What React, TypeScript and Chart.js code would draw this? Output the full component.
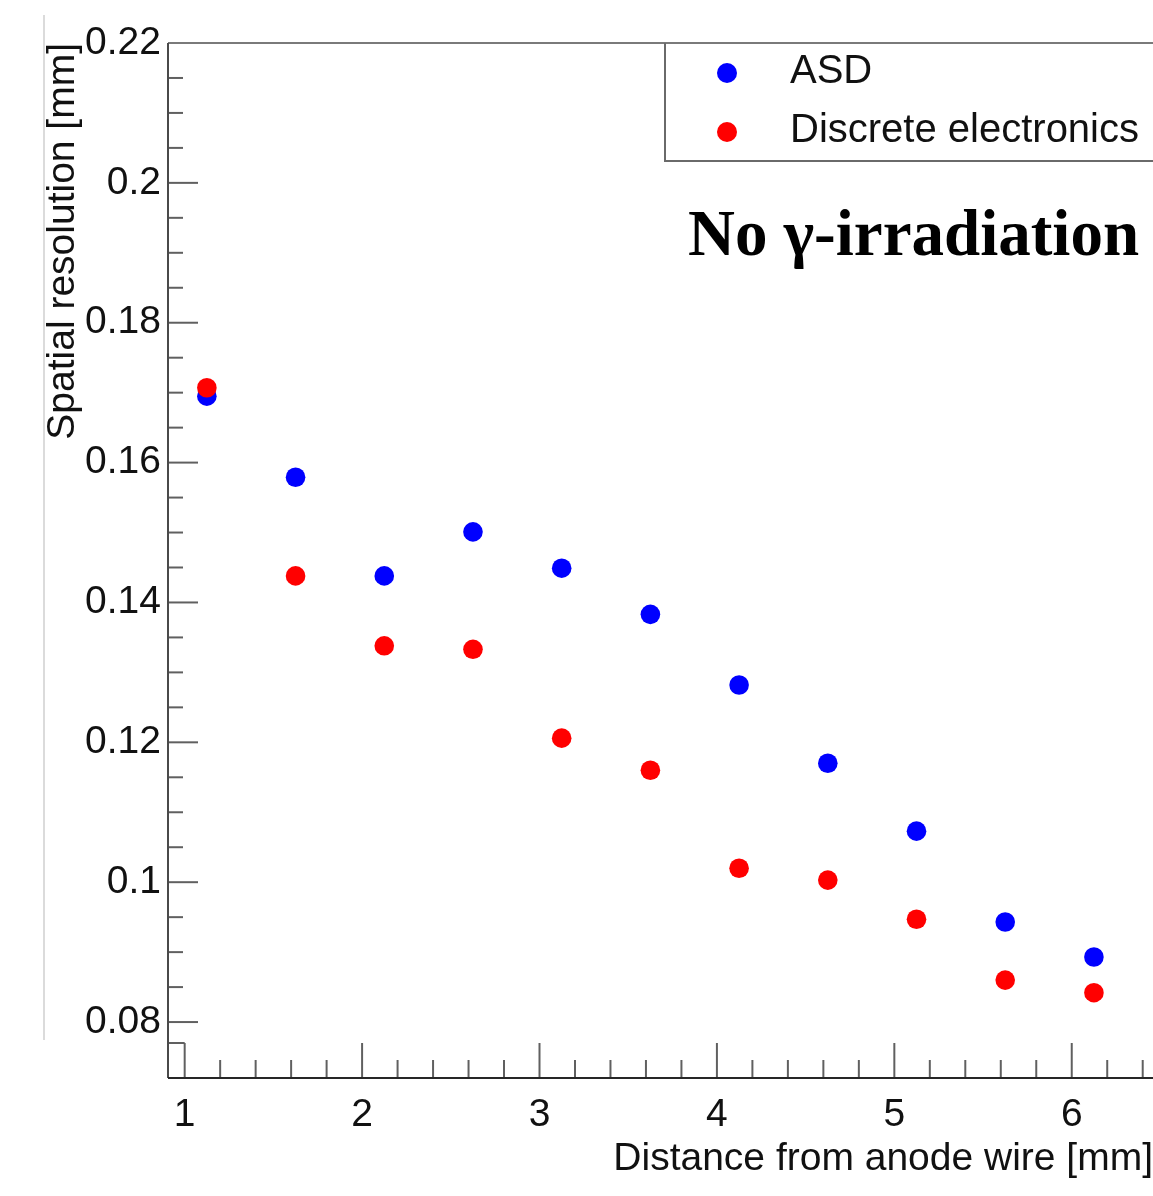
import React, { useEffect, useRef } from "react";
import { Chart, registerables } from "chart.js";

Chart.register(...registerables);

// ---- Data ----
const distances = [1.125, 1.625, 2.125, 2.625, 3.125, 3.625, 4.125, 4.625, 5.125, 5.625, 6.125];
const asdResolution = [0.1695, 0.1579, 0.1438, 0.1501, 0.1449, 0.1383, 0.1282, 0.117, 0.1073, 0.0943, 0.0893];
const discreteResolution = [0.1707, 0.1438, 0.1338, 0.1333, 0.1206, 0.116, 0.102, 0.1003, 0.0947, 0.086, 0.0842];
const seriesLabels = ["ASD", "Discrete electronics"];
const seriesColors = ["#0000ff", "#ff0000"];
const xTickValues = [1, 2, 3, 4, 5, 6];
const yTickValues = [0.08, 0.1, 0.12, 0.14, 0.16, 0.18, 0.2, 0.22];
const xMinorStep = 0.2;
const yMinorStep = 0.005;
const xRange = [0.906, 6.458];
const yRange = [0.072, 0.22];
const xTitle = "Distance from anode wire [mm]";
const yTitle = "Spatial resolution [mm]";
const annotationText = "No γ-irradiation";

const SANS = '"Liberation Sans", Arial, Helvetica, sans-serif';
const SERIF = '"Liberation Serif", "Times New Roman", serif';

const rootFramePlugin = {
  id: "rootFrame",
  beforeDatasetsDraw(chart: any) {
    const { ctx, chartArea } = chart;
    const { left, right, top, bottom } = chartArea;
    const xs = chart.scales.x;
    const ys = chart.scales.y;
    ctx.save();
    // cropped-image edge line on the far left
    ctx.strokeStyle = "#cfcfcf";
    ctx.lineWidth = 1.5;
    ctx.beginPath();
    ctx.moveTo(44, 15);
    ctx.lineTo(44, 1040);
    ctx.stroke();

    // top frame line
    ctx.strokeStyle = "#7a7a7a";
    ctx.lineWidth = 2;
    ctx.beginPath();
    ctx.moveTo(left, top);
    ctx.lineTo(right + 2, top);
    ctx.stroke();

    // ticks
    ctx.strokeStyle = "#606060";
    ctx.lineWidth = 2;
    const xMajorLen = 35, xMinorLen = 18, yMajorLen = 30, yMinorLen = 15;
    const xStart = Math.ceil(xRange[0] / xMinorStep - 1e-9);
    const xEnd = Math.floor(xRange[1] / xMinorStep + 1e-9);
    for (let i = xStart; i <= xEnd; i++) {
      const v = i * xMinorStep;
      const isMajor = xTickValues.some((t) => Math.abs(t - v) < 1e-6);
      const px = xs.getPixelForValue(v);
      ctx.beginPath();
      ctx.moveTo(px, bottom);
      ctx.lineTo(px, bottom - (isMajor ? xMajorLen : xMinorLen));
      ctx.stroke();
    }
    // stub line at top of first major x tick
    const firstMajorPx = xs.getPixelForValue(xTickValues[0]);
    ctx.beginPath();
    ctx.moveTo(left, bottom - xMajorLen);
    ctx.lineTo(firstMajorPx, bottom - xMajorLen);
    ctx.stroke();
    const yStart = Math.round(yTickValues[0] / yMinorStep);
    const yEnd = Math.floor(yRange[1] / yMinorStep + 1e-9);
    for (let i = yStart; i < yEnd; i++) {
      const v = i * yMinorStep;
      const isMajor = yTickValues.some((t) => Math.abs(t - v) < 1e-6);
      const py = ys.getPixelForValue(v);
      ctx.beginPath();
      ctx.moveTo(left, py);
      ctx.lineTo(left + (isMajor ? yMajorLen : yMinorLen), py);
      ctx.stroke();
    }

    // axis lines
    ctx.strokeStyle = "#4a4a4a";
    ctx.lineWidth = 2;
    ctx.beginPath();
    ctx.moveTo(left, top);
    ctx.lineTo(left, bottom);
    ctx.stroke();
    ctx.strokeStyle = "#262626";
    ctx.beginPath();
    ctx.moveTo(left, bottom);
    ctx.lineTo(right + 2, bottom);
    ctx.stroke();
    ctx.restore();
  },
  afterDatasetsDraw(chart: any) {
    const { ctx } = chart;
    ctx.save();
    // legend box
    ctx.strokeStyle = "#6a6a6a";
    ctx.lineWidth = 2;
    ctx.beginPath();
    ctx.moveTo(1160, 161);
    ctx.lineTo(665, 161);
    ctx.lineTo(665, 43);
    ctx.stroke();
    const rows = [73, 132];
    chart.data.datasets
      .slice()
      .sort((a: any, b: any) => a.legendIndex - b.legendIndex)
      .forEach((ds: any, i: number) => {
        ctx.fillStyle = ds.backgroundColor;
        ctx.beginPath();
        ctx.arc(727, rows[i], 10, 0, Math.PI * 2);
        ctx.fill();
        ctx.fillStyle = "#111";
        ctx.font = `40px ${SANS}`;
        ctx.textAlign = "left";
        ctx.textBaseline = "alphabetic";
        ctx.fillText(ds.label, 790, rows[i] + 10);
      });
    // annotation
    ctx.fillStyle = "#000";
    ctx.font = `bold 65px ${SERIF}`;
    ctx.textAlign = "left";
    ctx.textBaseline = "alphabetic";
    ctx.fillText(annotationText, 688, 255);
    ctx.restore();
  },
};

export default function App() {
  const canvasRef = useRef<HTMLCanvasElement | null>(null);

  useEffect(() => {
    document.body.style.margin = "0";
    const canvas = canvasRef.current;
    if (!canvas) return;
    const chart = new Chart(canvas, {
      type: "scatter",
      data: {
        datasets: [
          {
            label: seriesLabels[0],
            legendIndex: 0,
            data: distances.map((x, i) => ({ x, y: asdResolution[i] })),
            backgroundColor: seriesColors[0],
            borderColor: seriesColors[0],
            pointRadius: 9.8,
            pointBorderWidth: 0,
            order: 1,
          } as any,
          {
            label: seriesLabels[1],
            legendIndex: 1,
            data: distances.map((x, i) => ({ x, y: discreteResolution[i] })),
            backgroundColor: seriesColors[1],
            borderColor: seriesColors[1],
            pointRadius: 9.8,
            pointBorderWidth: 0,
            order: 0,
          } as any,
        ],
      },
      options: {
        animation: false,
        responsive: false,
        devicePixelRatio: 1,
        layout: { autoPadding: false, padding: { left: 40, top: 43, right: 0, bottom: 0 } },
        plugins: {
          legend: { display: false },
          tooltip: { enabled: false },
        },
        scales: {
          x: {
            type: "linear",
            min: xRange[0],
            max: xRange[1],
            grid: { display: false, drawTicks: false },
            border: { display: false },
            afterBuildTicks: (s: any) => {
              s.ticks = xTickValues.map((v) => ({ value: v }));
            },
            afterFit: (s: any) => {
              s.height = 118;
            },
            ticks: {
              padding: 14,
              color: "#111",
              font: { family: SANS, size: 39 },
              maxRotation: 0,
              callback: (v: any) => String(v),
            },
            title: {
              display: true,
              text: xTitle,
              align: "end",
              color: "#111",
              font: { family: SANS, size: 39 },
              padding: { top: 0, bottom: 13 },
            },
          },
          y: {
            type: "linear",
            min: yRange[0],
            max: yRange[1],
            grid: { display: false, drawTicks: false },
            border: { display: false },
            afterBuildTicks: (s: any) => {
              s.ticks = yTickValues.map((v) => ({ value: v }));
            },
            afterFit: (s: any) => {
              s.width = 128;
            },
            ticks: {
              padding: 7,
              color: "#111",
              font: { family: SANS, size: 39 },
              callback: (v: any) => String(parseFloat(Number(v).toFixed(3))),
            },
            title: {
              display: true,
              text: yTitle,
              align: "end",
              color: "#111",
              font: { family: SANS, size: 39 },
              padding: { top: 0, bottom: 0 },
            },
          },
        },
      },
      plugins: [rootFramePlugin],
    });
    return () => chart.destroy();
  }, []);

  return (
    <div style={{ width: 1153, height: 1196 }}>
      <canvas ref={canvasRef} width={1153} height={1196} style={{ display: "block" }} />
    </div>
  );
}
